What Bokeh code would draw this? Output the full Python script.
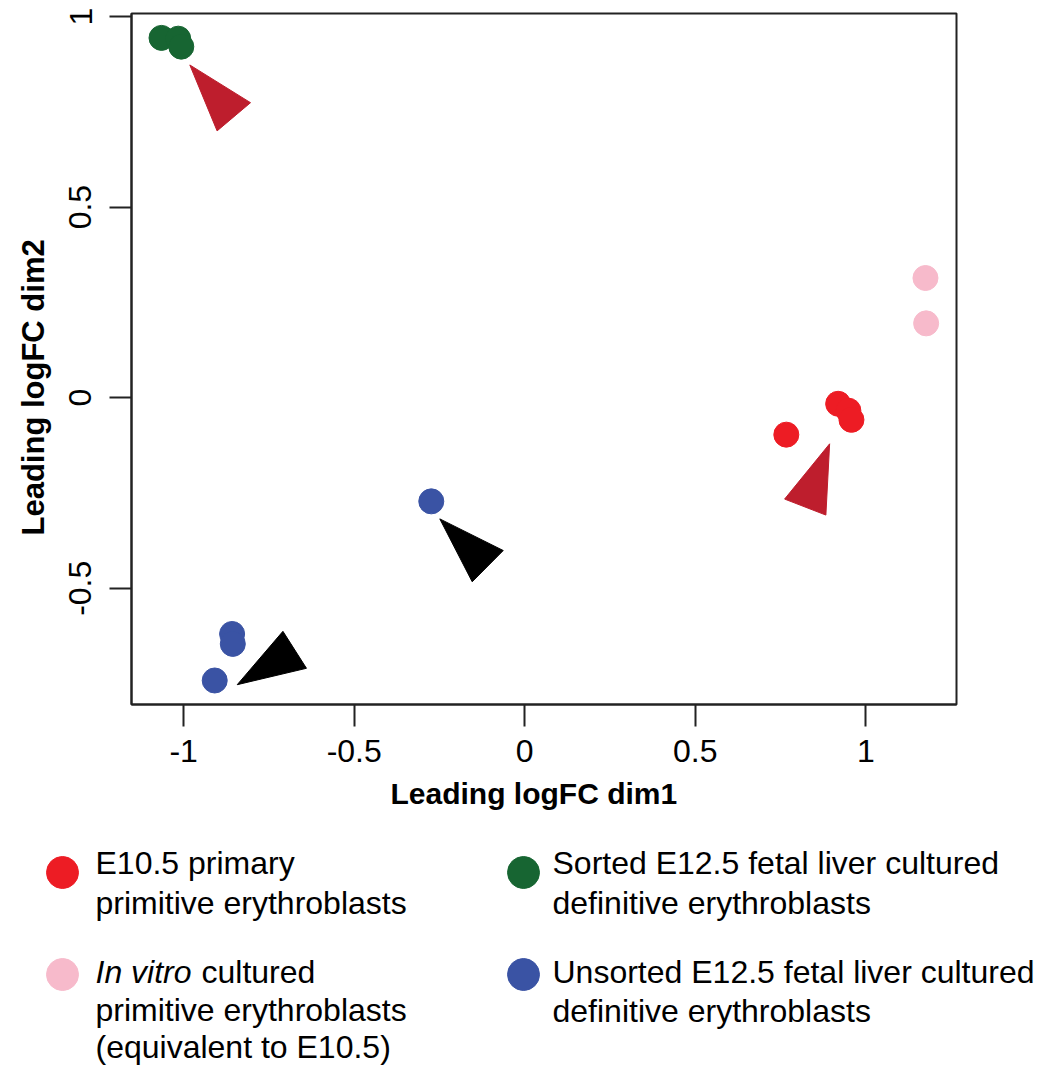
from bokeh.plotting import figure
from bokeh.models import Range1d, FixedTicker, Title
from bokeh.layouts import column
from bokeh.embed import file_html
from bokeh.resources import INLINE
from bokeh.core.properties import value

# ---------------- data ----------------
primary_x = [0.767, 0.919, 0.949, 0.958]
primary_y = [-0.097, -0.016, -0.034, -0.058]
invitro_x = [1.175, 1.177]
invitro_y = [0.314, 0.195]
sorted_x = [-1.065, -1.016, -1.007]
sorted_y = [0.944, 0.942, 0.921]
unsorted_x = [-0.274, -0.858, -0.856, -0.909]
unsorted_y = [-0.272, -0.620, -0.646, -0.742]

# arrowheads (annotations), vertices in data units
red_arrow_xs = [[-0.982, -0.804, -0.902], [0.894, 0.762, 0.883]]
red_arrow_ys = [[0.873, 0.774, 0.700], [-0.121, -0.266, -0.308]]
black_arrow_xs = [[-0.249, -0.063, -0.154], [-0.843, -0.709, -0.640]]
black_arrow_ys = [[-0.318, -0.401, -0.483], [-0.753, -0.613, -0.710]]

x_ticks = [-1, -0.5, 0, 0.5, 1]
x_tick_labels = ["-1", "-0.5", "0", "0.5", "1"]
y_ticks = [-0.5, 0, 0.5, 1]
y_tick_labels = ["-0.5", "0", "0.5", "1"]

x_title = "Leading logFC dim1"
y_title = "Leading logFC dim2"

legend_names = [
    "E10.5 primary\nprimitive erythroblasts",
    "In vitro cultured\nprimitive erythroblasts\n(equivalent to E10.5)",
    "Sorted E12.5 fetal liver cultured\ndefinitive erythroblasts",
    "Unsorted E12.5 fetal liver cultured\ndefinitive erythroblasts",
]

c_primary = "#ED1C24"
c_invitro = "#F7BACB"
c_sorted = "#176532"
c_unsorted = "#3A53A4"
c_red_arrow = "#BE1E2D"
c_black_arrow = "#000000"

FONT = "Liberation Sans"

# ---------------- main plot ----------------
W = 1039
H_TOTAL = 1066
H1 = 828
p = figure(width=W, height=H1, output_backend="svg", toolbar_location=None,
           x_range=Range1d(-1.153, 1.266), y_range=Range1d(-0.805, 1.008),
           min_border_left=131, min_border_right=W - 956, min_border_top=13,
           min_border_bottom=H1 - 704)
p.frame_align = False
p.grid.visible = False
p.outline_line_color = "#222222"
p.outline_line_width = 2
p.background_fill_color = "white"
p.border_fill_color = "white"

p.patches(red_arrow_xs, red_arrow_ys, fill_color=c_red_arrow, line_color=c_red_arrow)
p.patches(black_arrow_xs, black_arrow_ys, fill_color=c_black_arrow, line_color=c_black_arrow)

for xs, ys, c in [(sorted_x, sorted_y, c_sorted), (unsorted_x, unsorted_y, c_unsorted),
                  (primary_x, primary_y, c_primary), (invitro_x, invitro_y, c_invitro)]:
    p.scatter(xs, ys, size=25, fill_color=c, line_color=c)

for ax, ticks, labels in [(p.xaxis, x_ticks, x_tick_labels), (p.yaxis, y_ticks, y_tick_labels)]:
    ax.ticker = FixedTicker(ticks=ticks)
    ax.major_label_overrides = {t: l for t, l in zip(ticks, labels)}
    ax.minor_tick_line_color = None
    ax.major_tick_out = 22
    ax.major_tick_in = 0
    ax.major_tick_line_width = 2
    ax.major_tick_line_color = "#222222"
    ax.axis_line_width = 2
    ax.axis_line_color = "#222222"
    ax.major_label_text_font = FONT
    ax.major_label_text_font_size = "32px"
    ax.major_label_text_color = "black"

p.xaxis.major_label_standoff = 13
p.yaxis.major_label_standoff = 18
p.yaxis.major_label_orientation = "vertical"

# axis titles (R places them slightly off the frame centre)
p.add_layout(Title(text=x_title, align="left", offset=259, vertical_align="top",
                   standoff=24, text_font=FONT, text_font_size="30px",
                   text_font_style="bold", text_color="black"), "below")
p.add_layout(Title(text=y_title, align="left", offset=169, vertical_align="top",
                   standoff=28, text_font=FONT, text_font_size="31px",
                   text_font_style="bold", text_color="black"), "left")

# ---------------- legend panel ----------------
H2 = H_TOTAL - H1
top = H1
q = figure(width=W, height=H2, output_backend="svg", toolbar_location=None,
           x_range=Range1d(0, W), y_range=Range1d(top + H2, top),
           min_border=0, min_border_left=0, min_border_right=0,
           min_border_top=0, min_border_bottom=0, outline_line_color=None)
q.frame_align = False
q.axis.visible = False
q.grid.visible = False

marker_x = [62, 62, 523, 523]
marker_y = [872, 974, 872, 974]
q.scatter(marker_x, marker_y, size=32,
          fill_color=[c_primary, c_invitro, c_sorted, c_unsorted],
          line_color=[c_primary, c_invitro, c_sorted, c_unsorted])

text_x = [95, 95, 95, 201, 95, 95, 552, 552, 552, 552]
text_y = [862, 902, 971, 971, 1009, 1046, 862, 902, 971, 1010]
l0 = legend_names[0].split("\n")
l1 = legend_names[1].split("\n")
l2 = legend_names[2].split("\n")
l3 = legend_names[3].split("\n")
first_words = l1[0].split(" ")
italic_part = " ".join(first_words[:2])
rest_part = " ".join(first_words[2:])
texts = [l0[0], l0[1], italic_part, rest_part, l1[1], l1[2], l2[0], l2[1], l3[0], l3[1]]
styles = ["normal", "normal", "italic", "normal", "normal", "normal",
          "normal", "normal", "normal", "normal"]
q.text(x=text_x, y=text_y, text=texts, text_font=value(FONT), text_font_size="32px",
       text_font_style=styles, text_baseline="alphabetic", text_align="left",
       text_color="black")

layout = column(p, q, spacing=0)
open("out.html", "w").write(file_html(layout, INLINE))
